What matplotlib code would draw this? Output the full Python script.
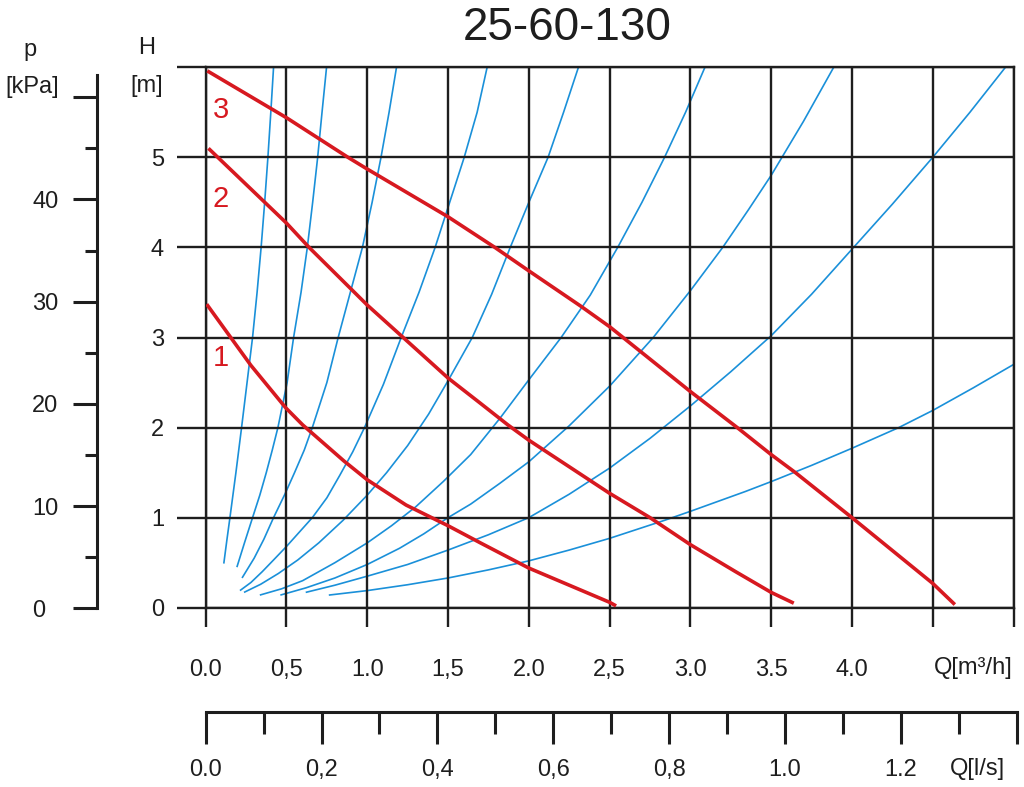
import matplotlib

matplotlib.use("Agg")
import matplotlib.pyplot as plt

plt.rcParams["font.family"] = ["Liberation Sans", "DejaVu Sans"]

# --- data (Q in m3/h, H in m) ------------------------------------------------
# system curves (blue), left to right
SYS_Q = [
    [0.112, 0.131, 0.150, 0.187, 0.222, 0.256, 0.290, 0.318, 0.343, 0.365, 0.385, 0.403, 0.420],
    [0.193, 0.240, 0.290, 0.335, 0.375, 0.412, 0.447, 0.504, 0.544, 0.590, 0.629, 0.662, 0.693,
     0.720, 0.748],
    [0.225, 0.300, 0.360, 0.420, 0.490, 0.550, 0.610, 0.660, 0.750, 0.820, 0.895, 0.970, 1.030,
     1.085, 1.135, 1.181],
    [0.212, 0.280, 0.350, 0.420, 0.500, 0.580, 0.660, 0.750, 0.830, 0.910, 0.983, 1.100, 1.210,
     1.320, 1.420, 1.510, 1.600, 1.680, 1.742],
    [0.237, 0.340, 0.450, 0.570, 0.700, 0.850, 1.000, 1.120, 1.250, 1.380, 1.500, 1.650, 1.770,
     1.885, 2.000, 2.119, 2.215, 2.307],
    [0.335, 0.470, 0.600, 0.800, 1.000, 1.150, 1.300, 1.470, 1.640, 1.820, 2.000, 2.200, 2.380,
     2.550, 2.700, 2.840, 2.970, 3.090],
    [0.462, 0.620, 0.800, 1.000, 1.200, 1.350, 1.500, 1.640, 1.820, 2.000, 2.250, 2.500, 2.770,
     3.000, 3.200, 3.360, 3.500, 3.700, 3.887],
    [0.619, 0.800, 1.000, 1.250, 1.500, 1.750, 2.000, 2.250, 2.500, 2.750, 3.000, 3.250, 3.500,
     3.750, 4.000, 4.250, 4.500, 4.730, 4.950],
    [0.762, 1.000, 1.250, 1.500, 1.750, 2.000, 2.250, 2.500, 2.840, 3.000, 3.340, 3.500, 3.750,
     4.000, 4.290, 4.500, 4.750, 5.000],
]
SYS_H = [
    [0.49, 0.75, 1.0, 1.5, 2.0, 2.5, 3.0, 3.5, 4.0, 4.5, 5.0, 5.5, 6.0],
    [0.45, 0.72, 1.0, 1.25, 1.5, 1.75, 2.0, 2.5, 3.0, 3.5, 4.0, 4.5, 5.0, 5.5, 6.0],
    [0.33, 0.55, 0.76, 1.0, 1.26, 1.5, 1.75, 2.0, 2.5, 3.0, 3.5, 4.0, 4.5, 5.0, 5.5, 6.0],
    [0.19, 0.28, 0.40, 0.53, 0.68, 0.84, 1.0, 1.22, 1.47, 1.73, 2.0, 2.48, 3.0, 3.5, 4.0, 4.5,
     5.0, 5.5, 6.0],
    [0.17, 0.26, 0.38, 0.53, 0.72, 0.97, 1.25, 1.5, 1.8, 2.15, 2.52, 3.0, 3.48, 4.0, 4.5, 5.0,
     5.5, 6.0],
    [0.14, 0.21, 0.30, 0.50, 0.72, 0.91, 1.12, 1.40, 1.70, 2.10, 2.53, 3.0, 3.47, 4.0, 4.5, 5.0,
     5.5, 6.0],
    [0.14, 0.22, 0.33, 0.48, 0.66, 0.82, 1.0, 1.15, 1.38, 1.62, 2.02, 2.46, 3.0, 3.52, 4.0, 4.42,
     4.8, 5.4, 6.0],
    [0.17, 0.25, 0.35, 0.48, 0.64, 0.81, 1.0, 1.26, 1.55, 1.88, 2.24, 2.62, 3.02, 3.48, 3.98,
     4.48, 5.0, 5.5, 6.0],
    [0.14, 0.19, 0.255, 0.33, 0.42, 0.52, 0.64, 0.77, 0.97, 1.07, 1.29, 1.40, 1.58, 1.77, 2.0,
     2.19, 2.44, 2.70],
]

# pump curves (red), speed 1..3
PUMP_Q = {
    "1": [0.006, 0.155, 0.28, 0.495, 0.6, 0.855, 1.0, 1.24, 1.5, 1.7, 2.0, 2.5, 2.54],
    "2": [0.017, 0.5, 0.64, 1.0, 1.21, 1.5, 1.7, 1.87, 2.0, 2.5, 2.75, 3.0, 3.28, 3.5, 3.64],
    "3": [0.01, 0.5, 0.881, 1.0, 1.5, 1.79, 2.0, 2.32, 2.5, 3.0, 3.29, 3.5, 3.65, 4.0, 4.5, 4.637],
}
PUMP_H = {
    "1": [3.37, 3.0, 2.69, 2.22, 2.03, 1.63, 1.42, 1.14, 0.91, 0.72, 0.44, 0.06, 0.02],
    "2": [5.1, 4.27, 4.0, 3.36, 3.02, 2.55, 2.27, 2.03, 1.86, 1.27, 1.0, 0.7, 0.4, 0.17, 0.05],
    "3": [5.96, 5.44, 5.0, 4.87, 4.34, 4.0, 3.74, 3.35, 3.12, 2.4, 2.0, 1.7, 1.5, 1.0, 0.27, 0.035],
}
PUMP_LABEL_POS = {"1": (0.094, 2.68), "2": (0.094, 4.45), "3": (0.094, 5.44)}

Q_TICKS = [0.0, 0.5, 1.0, 1.5, 2.0, 2.5, 3.0, 3.5, 4.0, 4.5, 5.0]
Q_LABELS = ["0.0", "0,5", "1.0", "1,5", "2.0", "2,5", "3.0", "3.5", "4.0", "", ""]
H_TICKS = [0, 1, 2, 3, 4, 5, 6]
H_LABELS = ["0", "1", "2", "3", "4", "5", ""]
P_TICKS = [0, 10, 20, 30, 40, 50]
P_LABELS = ["0", "10", "20", "30", "40", ""]
P_MINOR = [5, 15, 25, 35, 45]
LS_TICKS = [0.0, 0.2, 0.4, 0.6, 0.8, 1.0, 1.2, 1.4]
LS_LABELS = ["0.0", "0,2", "0,4", "0,6", "0,8", "1.0", "1.2", ""]
LS_MINOR = [0.1, 0.3, 0.5, 0.7, 0.9, 1.1, 1.3]

INK = "#1e1e1e"
BLUE = "#1a90d9"
RED = "#d71920"
W, HP = 1024, 787


def fx(px):
    return px / W


def fy(py):
    return (HP - py) / HP


fig = plt.figure(figsize=(W / 100, HP / 100), dpi=100)

# main H-Q grid
ax = fig.add_axes([fx(205.7), fy(607.7), (1013.5 - 205.7) / W, (607.7 - 67.3) / HP])
ax.set_xlim(0, 5)
ax.set_ylim(0, 6)
ax.set_xticks(Q_TICKS, Q_LABELS)
ax.set_yticks(H_TICKS, H_LABELS)
ax.grid(True, color=INK, lw=1.7)
for sp in ax.spines.values():
    sp.set_color(INK)
    sp.set_linewidth(1.7)
ax.tick_params(axis="x", length=13.7, width=1.7, color=INK, pad=23.5, labelsize=17, labelcolor=INK)
ax.tick_params(axis="y", length=21, width=1.7, color=INK, pad=9, labelsize=17, labelcolor=INK)

for q, h in zip(SYS_Q, SYS_H):
    ax.plot(q, h, color=BLUE, lw=1.2, zorder=1.2, solid_capstyle="butt", solid_joinstyle="round")
for key in PUMP_Q:
    ax.plot(PUMP_Q[key], PUMP_H[key], color=RED, lw=2.6, zorder=3,
            solid_capstyle="butt", solid_joinstyle="round")
    lx, ly = PUMP_LABEL_POS[key]
    ax.text(lx, ly, key, color=RED, fontsize=21, ha="center", va="baseline")

fig.text(fx(1013), fy(668), "Q[m³/h]", fontsize=17, color=INK, ha="right", va="center")

# pressure axis on the far left
ax_p = fig.add_axes([fx(96.7), fy(608.3), 0.002, (608.3 - 75) / HP])
ax_p.set_ylim(0, 52.18)
ax_p.set_xticks([])
ax_p.set_yticks(P_TICKS, P_LABELS)
ax_p.set_yticks(P_MINOR, minor=True)
for name, sp in ax_p.spines.items():
    sp.set_visible(name == "left")
ax_p.spines["left"].set_linewidth(2.2)
ax_p.spines["left"].set_color(INK)
ax_p.patch.set_visible(False)
ax_p.tick_params(axis="y", which="major", length=17, width=2.2, color=INK, pad=29.5,
                 labelsize=17, labelcolor=INK)
ax_p.tick_params(axis="y", which="minor", length=9, width=2.2, color=INK)
for t in ax_p.get_yticklabels():
    t.set_horizontalalignment("left")

# flow axis in l/s underneath
ax_l = fig.add_axes([fx(205.7), fy(711.7), (1016.7 - 205.7) / W, 0.002])
ax_l.set_xlim(0, 1.4)
ax_l.set_yticks([])
ax_l.set_xticks(LS_TICKS, LS_LABELS)
ax_l.set_xticks(LS_MINOR, minor=True)
for name, sp in ax_l.spines.items():
    sp.set_visible(name == "bottom")
ax_l.spines["bottom"].set_linewidth(2.2)
ax_l.spines["bottom"].set_color(INK)
ax_l.patch.set_visible(False)
ax_l.tick_params(axis="x", which="major", length=22.8, width=2.2, color=INK, pad=11,
                 labelsize=17, labelcolor=INK)
ax_l.tick_params(axis="x", which="minor", length=15.6, width=2.2, color=INK)
fig.text(fx(1005), fy(769), "Q[l/s]", fontsize=17, color=INK, ha="right", va="center")

# axis captions and title
fig.text(fx(146.7), fy(54), "H", fontsize=17, color=INK, ha="center", va="baseline")
fig.text(fx(146.7), fy(92), "[m]", fontsize=17, color=INK, ha="center", va="baseline")
fig.text(fx(30), fy(56), "p", fontsize=17, color=INK, ha="center", va="baseline")
fig.text(fx(32.5), fy(93), "[kPa]", fontsize=17, color=INK, ha="center", va="baseline")
fig.text(fx(567), fy(40), "25-60-130", fontsize=33, color=INK, ha="center", va="baseline")

fig.savefig("out.png", dpi=100)
